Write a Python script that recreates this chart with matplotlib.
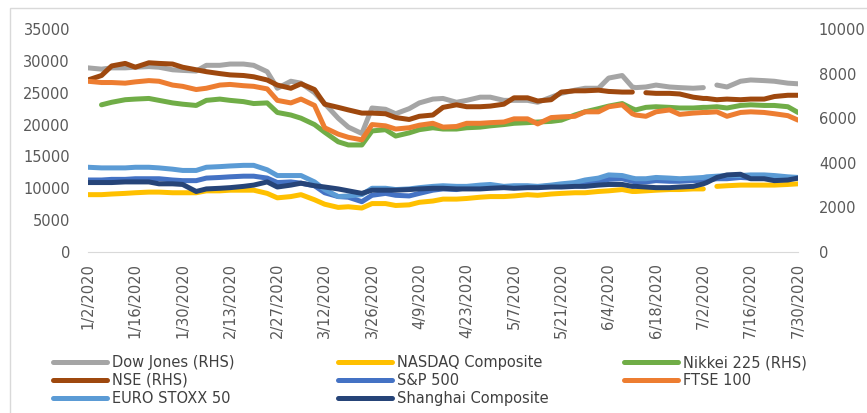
"""Stock index levels, Jan-Jul 2020 (Excel-style line chart with RHS axis)."""

import matplotlib
matplotlib.use("Agg")
import matplotlib.pyplot as plt
import matplotlib.dates as mdates
from matplotlib.patches import Rectangle
import numpy as np
import pandas as pd

# twice-weekly readings; 6/12 and 7/3 kept for the gaps in NSE / US series
dates = pd.to_datetime([
    "2020-01-02", "2020-01-06", "2020-01-09", "2020-01-13", "2020-01-16",
    "2020-01-20", "2020-01-23", "2020-01-27", "2020-01-30", "2020-02-03",
    "2020-02-06", "2020-02-10", "2020-02-13", "2020-02-17", "2020-02-20",
    "2020-02-24", "2020-02-27", "2020-03-02", "2020-03-05", "2020-03-09",
    "2020-03-12", "2020-03-16", "2020-03-19", "2020-03-23", "2020-03-26",
    "2020-03-30", "2020-04-02", "2020-04-06", "2020-04-09", "2020-04-13",
    "2020-04-16", "2020-04-20", "2020-04-23", "2020-04-27", "2020-04-30",
    "2020-05-04", "2020-05-07", "2020-05-11", "2020-05-14", "2020-05-18",
    "2020-05-21", "2020-05-25", "2020-05-28", "2020-06-01", "2020-06-04",
    "2020-06-08", "2020-06-11", "2020-06-12", "2020-06-15", "2020-06-18",
    "2020-06-22", "2020-06-25", "2020-06-29", "2020-07-02", "2020-07-03",
    "2020-07-06", "2020-07-09", "2020-07-13", "2020-07-16", "2020-07-20",
    "2020-07-23", "2020-07-27", "2020-07-30",
])

dow = [28900, 28700, 28900, 28900, 29000, 29100, 29000, 28600, 28500, 28400,
       29300, 29300, 29500, 29500, 29300, 28300, 25700, 26800, 26500, 25000,
       23300, 21000, 19600, 18600, 22600, 22400, 21700, 22500, 23400, 24000,
       24100, 23500, 23800, 24300, 24300, 23800, 23800, 23800, 23500, 24300,
       24900, 25400, 25700, 25700, 27300, 27700, 25900, 25800, 25900, 26200,
       25900, 25800, 25700, 25800, None, 26200, 25900, 26800, 27000, 26900,
       26800, 26500, 26400]
nasdaq = [9000, 9000, 9100, 9200, 9300, 9400, 9400, 9300, 9300, 9300,
          9600, 9600, 9700, 9700, 9700, 9200, 8500, 8700, 9000, 8200,
          7500, 7000, 7100, 6900, 7600, 7600, 7300, 7400, 7800, 8000,
          8300, 8300, 8400, 8600, 8700, 8700, 8800, 9000, 8900, 9100,
          9200, 9300, 9300, 9500, 9600, 9800, 9500, 9500, 9600, 9700,
          9800, 9800, 9900, 9900, None, 10300, 10400, 10500, 10500, 10500,
          10500, 10600, 10700]
nikkei = [None, 23100, 23500, 23900, 24000, 24100, 23800, 23400, 23200, 23000,
          23800, 24000, 23800, 23600, 23300, 23400, 21900, 21500, 21000, 20000,
          18800, 17300, 16800, 16800, 19000, 19200, 18200, 18700, 19200, 19500,
          19300, 19300, 19500, 19600, 19800, 20000, 20200, 20300, 20400, 20500,
          20700, 21500, 22000, 22500, 22900, 23300, 22500, 22300, 22700, 22800,
          22700, 22600, 22600, 22700, 22700, 22800, 22600, 23000, 23100, 23000,
          23000, 22800, 21900]
nse = [27000, 27700, 29200, 29600, 29000, 29700, 29600, 29500, 29000, 28600,
       28300, 28000, 27800, 27700, 27500, 27000, 26200, 25700, 26400, 25500,
       23200, 22700, 22300, 21800, 21800, 21700, 21100, 20800, 21300, 21500,
       22700, 23100, 22800, 22800, 22900, 23200, 24200, 24200, 23700, 23900,
       25100, 25300, 25300, 25400, 25200, 25100, 25100, None, 25000, 24900,
       24900, 24800, 24300, 24100, 24100, 23900, 24000, 23900, 24000, 24000,
       24400, 24600, 24600]
sp500 = [11300, 11300, 11400, 11400, 11500, 11500, 11500, 11300, 11200, 11200,
         11600, 11700, 11800, 11900, 11900, 11600, 10900, 11000, 10800, 10400,
         9300, 8700, 8600, 7900, 8900, 9200, 8900, 8800, 9200, 9700,
         9900, 9800, 10100, 10300, 10300, 10200, 10300, 10300, 10200, 10400,
         10500, 10600, 10800, 11000, 11400, 11500, 11100, 11000, 11000, 11200,
         11100, 11100, 11200, 11300, 11300, 11500, 11500, 11700, 11600, 11600,
         11500, 11500, 11600]
ftse = [26800, 26600, 26600, 26500, 26700, 26900, 26800, 26200, 26000, 25500,
        25700, 26200, 26300, 26100, 26000, 25600, 23800, 23400, 24000, 23000,
        19500, 18500, 18000, 17600, 20000, 19800, 19300, 19500, 19900, 20200,
        19600, 19700, 20200, 20200, 20300, 20400, 20900, 20900, 20100, 21100,
        21200, 21300, 22000, 22000, 22800, 23100, 21700, 21500, 21300, 22000,
        22300, 21600, 21800, 21900, 21900, 22000, 21300, 21900, 22000, 21900,
        21700, 21400, 20700]
euro = [13300, 13200, 13200, 13200, 13300, 13300, 13200, 13000, 12800, 12800,
        13300, 13400, 13500, 13600, 13600, 12900, 12000, 12000, 12000, 11000,
        9800, 8700, 8800, 9000, 10000, 10000, 9800, 9900, 10100, 10300,
        10400, 10300, 10300, 10500, 10600, 10300, 10400, 10400, 10300, 10500,
        10700, 10900, 11300, 11600, 12100, 12000, 11600, 11500, 11500, 11700,
        11600, 11500, 11600, 11700, 11800, 11900, 12000, 12000, 12100, 12100,
        12000, 11800, 11700]
shanghai = [10900, 10900, 10900, 11000, 11000, 11000, 10700, 10700, 10600, 9500,
            9900, 10000, 10100, 10300, 10500, 11000, 10200, 10500, 10800, 10400,
            10200, 9900, 9600, 9200, 9700, 9700, 9700, 9800, 9900, 10000,
            10000, 9900, 9900, 9900, 10000, 10100, 10000, 10100, 10100, 10200,
            10200, 10300, 10300, 10500, 10600, 10600, 10300, 10300, 10200, 10100,
            10100, 10200, 10300, 10700, 10900, 11700, 12100, 12200, 11500, 11500,
            11200, 11300, 11600]

labels = ["Dow Jones (RHS)", "NASDAQ Composite", "Nikkei 225 (RHS)", "NSE (RHS)",
          "S&P 500", "FTSE 100", "EURO STOXX 50", "Shanghai Composite"]
series = [dow, nasdaq, nikkei, nse, sp500, ftse, euro, shanghai]
colors = ["#A5A5A5", "#FFC000", "#70AD47", "#9E480E",
          "#4472C4", "#ED7D31", "#5B9BD5", "#264478"]

W, H = 867, 413
plt.rcParams["font.family"] = "DejaVu Sans"
fig = plt.figure(figsize=(W / 100, H / 100), dpi=100)
ax = fig.add_axes([88 / W, 1 - 252 / H, (798 - 88) / W, (252 - 29) / H])

handles = []
for i, (lab, vals, c) in enumerate(zip(labels, series, colors)):
    y = np.array([np.nan if v is None else v for v in vals], dtype=float)
    h, = ax.plot(dates, y, color=c, lw=3.6, solid_capstyle="round",
                 solid_joinstyle="round", label=lab, zorder=2 + i)
    handles.append(h)

ax.set_xlim(dates[0], dates[-1])
ax.set_ylim(0, 35000)
ax.set_yticks(np.arange(0, 35001, 5000))
ticks = pd.date_range("2020-01-02", "2020-07-30", freq="14D")
ax.set_xticks(ticks)
ax.set_xticklabels([f"{d.month}/{d.day}/{d.year}" for d in ticks], rotation=90)
for s in ["top", "right", "left"]:
    ax.spines[s].set_visible(False)
ax.spines["bottom"].set_color("#D9D9D9")
ax.tick_params(axis="both", length=0, labelsize=10.5, colors="#595959")
ax.tick_params(axis="y", pad=13)
ax.tick_params(axis="x", pad=8)

ax2 = ax.twinx()
ax2.set_ylim(0, 10000)
ax2.set_yticks(np.arange(0, 10001, 2000))
for s in ax2.spines.values():
    s.set_visible(False)
ax2.tick_params(axis="y", length=0, labelsize=10.5, colors="#595959", pad=15)

# legend laid out like Excel: three equal columns, filled row by row
cols = [[0, 3, 6], [1, 4, 7], [2, 5]]
xs = [53, 338, 624]
for idx, x in zip(cols, xs):
    fig.legend([handles[k] for k in idx], [labels[k] for k in idx],
               loc="upper left", bbox_to_anchor=(x / W, 1 - 355 / H),
               frameon=False, fontsize=10.5, handlelength=3.7,
               handletextpad=0.35, labelspacing=0.2, borderpad=0,
               borderaxespad=0, labelcolor="#404040")

fig.add_artist(Rectangle((10 / W, -0.1), 1.2, 1.1 - 8 / H,
                         transform=fig.transFigure, fill=False,
                         ec="#D9D9D9", lw=1))

fig.savefig("out.png", dpi=100)
